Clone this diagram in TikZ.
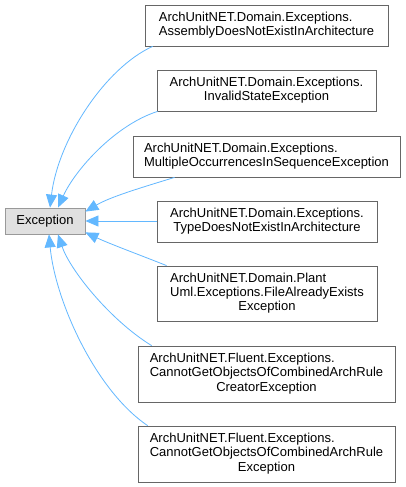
\documentclass[tikz,border=0pt]{standalone}
\usepackage{fontspec}
\setmainfont{Liberation Sans}
\usetikzlibrary{arrows.meta}
\definecolor{edgeblue}{HTML}{63B8FF}
\definecolor{boxline}{HTML}{666666}
\definecolor{rootline}{HTML}{999999}
\definecolor{rootfill}{HTML}{E0E0E0}
\newcommand{\lines}[1]{\begin{tabular}{@{}l@{}}#1\end{tabular}}
\newcommand{\lastc}[1]{\multicolumn{1}{@{}c@{}}{#1}}
\begin{document}
\begin{tikzpicture}[x=1pt,y=-1pt,
  cls/.style={draw=boxline,line width=0.8pt,fill=white,inner sep=0pt,
    font=\fontsize{13}{14.3}\selectfont,align=center},
  root/.style={draw=rootline,line width=0.8pt,fill=rootfill,inner sep=0pt,
    font=\fontsize{13}{14.3}\selectfont,minimum width=80pt,minimum height=26pt},
  inh/.style={draw=edgeblue,line width=0.8pt,
    {Triangle[length=13pt,width=11pt,fill=edgeblue]}-{}}]
\useasboundingbox (0,0) rectangle (405,487);
\fill[white] (0,0) rectangle (405,487);

\node[root] (E) at (45,221) {Exception};

\node[cls,minimum width=243pt,minimum height=41pt] (B1) at (266.5,25.5)
  {\lines{ArchUnitNET.Domain.Exceptions.\\\lastc{AssemblyDoesNotExistInArchitecture}}};
\node[cls,minimum width=219pt,minimum height=41pt] (B2) at (266.5,90.5)
  {\lines{ArchUnitNET.Domain.Exceptions.\\\lastc{InvalidStateException}}};
\node[cls,minimum width=267pt,minimum height=41pt] (B3) at (266.5,156.5)
  {\lines{ArchUnitNET.Domain.Exceptions.\\\lastc{MultipleOccurrencesInSequenceException}}};
\node[cls,minimum width=220pt,minimum height=41pt] (B4) at (267,221.5)
  {\lines{ArchUnitNET.Domain.Exceptions.\\\lastc{TypeDoesNotExistInArchitecture}}};
\node[cls,minimum width=220pt,minimum height=55pt] (B5) at (267,293.5)
  {\lines{ArchUnitNET.Domain.Plant\\Uml.Exceptions.FileAlreadyExists\\\lastc{Exception}}};
\node[cls,minimum width=257pt,minimum height=56pt] (B6) at (266.5,374)
  {\lines{ArchUnitNET.Fluent.Exceptions.\\CannotGetObjectsOfCombinedArchRule\\\lastc{CreatorException}}};
\node[cls,minimum width=257pt,minimum height=56pt] (B7) at (266.5,454)
  {\lines{ArchUnitNET.Fluent.Exceptions.\\CannotGetObjectsOfCombinedArchRule\\\lastc{Exception}}};

\draw[inh] ([xshift=5pt]E.north) .. controls (58,140) and (105,68) .. ([xshift=8pt]B1.south west);
\draw[inh] ([xshift=13pt]E.north) .. controls (75,170) and (115,125) .. ([xshift=1pt]B2.south west);
\draw[inh] ([xshift=0pt,yshift=-4pt]E.north east) .. controls (110,197) and (140,188) .. ([xshift=42pt]B3.south west);
\draw[inh] (E.east) -- (E.east -| B4.west);
\draw[inh] ([xshift=0pt,yshift=2pt]E.south east) .. controls (110,244) and (140,255) .. ([xshift=10pt]B5.north west);
\draw[inh] ([xshift=13pt]E.south) .. controls (70,270) and (110,320) .. ([xshift=14pt]B6.north west);
\draw[inh] ([xshift=4pt]E.south) .. controls (55,300) and (95,390) .. ([xshift=10pt]B7.north west);
\end{tikzpicture}
\end{document}
